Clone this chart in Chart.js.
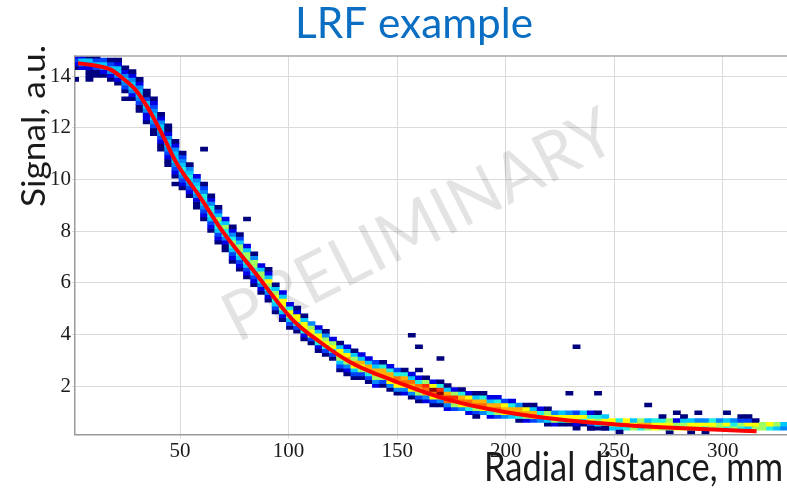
<!DOCTYPE html>
<html>
<head>
<meta charset="utf-8">
<title>LRF example</title>
<script src="https://cdn.jsdelivr.net/npm/chart.js@4.4.1/dist/chart.umd.min.js"></script>
<style>
  html, body { margin: 0; padding: 0; background: #fff; }
  #wrap { width: 787px; height: 492px; position: relative; }
</style>
</head>
<body>
<div id="wrap"><canvas id="lrfChart"></canvas></div>
<script>
// histogram bin size (mm, a.u.)
const BIN_X = 3.3;
const BIN_Y = 0.15;

// one entry per x bin (0, 3.3, 6.6 ... mm): first filled y bin
const colStartBin = [
  95, 95, 93, 93, 93, 92, 91, 89, 87, 84,
  81, 78, 74, 70, 67, 64, 62, 59, 56, 53,
  50, 48, 45, 43, 41, 39, 37, 35, 32, 30,
  28, 27, 25, 24, 22, 21, 20, 17, 16, 15,
  15, 14, 13, 13, 12, 11, 11, 10, 9, 9,
  8, 8, 7, 7, 7, 6, 6, 6, 5, 5,
  5, 5, 4, 4, 4, 4, 3, 3, 3, 3,
  3, 3, 2, 2, 2, 2, 2, 2, 2, 2,
  2, 2, 2, 1, 2, 2, 1, 2, 1, 2,
  2, 2, 2, 2, 2, 2, 2, 2, 2, 2
];
// cell levels from that bin upwards ('0' empty, '1' lowest ... 'c' highest count)
const colLevels = [
  '1232', '2452', '112451', '113531', '12453', '124531', '1245521', '1345421', '12455421', '113455421',
  '122455311', '1134554321', '1123455421', '11234554211', '1234555421', '1234565431', '123456541', '112456542', '1234566431', '1235666421',
  '1235667531', '112466752', '1235676421', '1235677531', '123567752', '123567741', '12467752', '12467852', '13568751', '12578852',
  '1357862', '1368821', '1268851', '137874', '1268852', '1368741', '136872', '13578851', '12479852', '13589751',
  '1378952', '1369952', '2479953', '1379961', '1489962', '1489a63', '248a961', '1489a52', '1379a6201', '249ab71',
  '138ac82', '149cb61', '24ab951', '37ab72', '48a961', '269a82', '37a951', '48a961', '26a952', '37a962',
  '48983', '59962', '16994', '27981', '38951', '4862', '15871', '2784', '1685', '1784',
  '2783', '1685', '13862', '15761', '1685', '578', '586', '698', '785', '697',
  '795', '886', '7861', '1787', '872', '8751', '1785', '784', '1684', '786',
  '774', '685', '764', '6731', '5831', '781', '77', '68', '57', '45'
];

// isolated single entries away from the band
const strayX = [2.9, 9.8, 23.2, 59.8, 49.4, 82, 91.8, 157, 160.8, 171, 187.3, 230, 233.5, 243, 266, 279, 289, 302, 253, 233, 239.7, 246];
const strayY = [13.86, 13.86, 13.1, 11.2, 9.87, 8.4, 6.55, 3.99, 3.55, 3.11, 0.76, 1.78, 3.55, 1.78, 1.33, 1.04, 0.9, 1.04, 0.16, 0.38, 0.38, 0.38];

// fitted LRF (red curve)
const fitX = [3, 10, 17.6, 23.7, 29.9, 36, 42.2, 48.3, 59, 69.5, 83.6, 102, 114.3, 128.2, 149.7, 174.3, 199.6, 228, 251, 274, 296, 315.6];
const fitY = [14.5, 14.42, 14.27, 13.91, 13.43, 12.65, 11.68, 10.65, 9.35, 8.0, 6.5, 4.56, 3.72, 2.94, 2.17, 1.46, 1.0, 0.68, 0.52, 0.40, 0.32, 0.26];

const xTicks = [50, 100, 150, 200, 250, 300];
const yTicks = [2, 4, 6, 8, 10, 12, 14];

// jet-like palette
const LEVEL_COLORS = {
  '1': '#00007f', '2': '#0000e6', '3': '#0040ff', '4': '#0088ff',
  '5': '#00c8ff', '6': '#20f0e0', '7': '#a0ff60', '8': '#ffff00',
  '9': '#ffb000', 'a': '#ff7000', 'b': '#ff2a00', 'c': '#8f0000'
};

// build cells
const cells = [];
colLevels.forEach((levels, i) => {
  const xc = BIN_X * (i + 0.5);
  for (let j = 0; j < levels.length; j++) {
    if (levels[j] === '0') continue;
    const b = colStartBin[i] + j;
    cells.push({ x: xc, y: [b * BIN_Y, (b + 1) * BIN_Y], lvl: levels[j] });
  }
});
strayX.forEach((x, i) => {
  const bx = Math.floor(x / BIN_X);
  const by = Math.floor(strayY[i] / BIN_Y);
  cells.push({ x: BIN_X * (bx + 0.5), y: [by * BIN_Y, (by + 1) * BIN_Y], lvl: '1' });
});

const fitPoints = fitX.map((x, i) => ({ x: x, y: fitY[i] }));

// text squeezed / stretched to a given width
function drawFitted(ctx, text, font, width) {
  ctx.font = font;
  const w = ctx.measureText(text).width;
  ctx.save();
  ctx.scale(width / w, 1);
  ctx.fillText(text, 0, 0);
  ctx.restore();
}

const lrfTexts = {
  id: 'lrfTexts',
  beforeDatasetsDraw(chart) {
    const { ctx } = chart;
    ctx.save();
    ctx.translate(419, 226);
    ctx.rotate(-27 * Math.PI / 180);
    ctx.fillStyle = 'rgba(0, 0, 0, 0.11)';
    ctx.textAlign = 'center';
    ctx.textBaseline = 'middle';
    drawFitted(ctx, 'PRELIMINARY', '68px Lato', 430);
    ctx.restore();
  },
  afterDatasetsDraw(chart) {
    const { ctx, chartArea } = chart;
    ctx.save();
    ctx.strokeStyle = '#a8a8a8';
    ctx.lineWidth = 1.5;
    ctx.beginPath();
    ctx.moveTo(chartArea.left, chartArea.top);
    ctx.lineTo(chartArea.right, chartArea.top);
    ctx.stroke();
    ctx.restore();
  },
  afterDraw(chart) {
    const { ctx } = chart;
    ctx.save();
    // title
    ctx.fillStyle = '#0a6fc2';
    ctx.textAlign = 'center';
    ctx.textBaseline = 'alphabetic';
    ctx.translate(414, 38);
    drawFitted(ctx, 'LRF example', '43px Lato', 238);
    ctx.restore();

    // y title
    ctx.save();
    ctx.fillStyle = '#1a1a1a';
    ctx.textAlign = 'center';
    ctx.textBaseline = 'alphabetic';
    ctx.translate(45, 126);
    ctx.rotate(-Math.PI / 2);
    drawFitted(ctx, 'Signal, a.u.', '32px Lato', 162);
    ctx.restore();

    // x title
    ctx.save();
    ctx.fillStyle = '#1a1a1a';
    ctx.textAlign = 'right';
    ctx.textBaseline = 'alphabetic';
    ctx.translate(783, 481);
    drawFitted(ctx, 'Radial distance, mm', '40px Lato', 299);
    ctx.restore();
  }
};

const tickFont = { family: 'Liberation Serif', size: 21 };

new Chart(document.getElementById('lrfChart'), {
  type: 'bar',
  data: {
    datasets: [
      {
        type: 'line',
        label: 'LRF fit',
        data: fitPoints,
        borderColor: '#ff0000',
        borderWidth: 4,
        pointRadius: 0,
        fill: false,
        cubicInterpolationMode: 'monotone',
        order: 1
      },
      {
        type: 'bar',
        label: 'events',
        data: cells,
        backgroundColor: (c) => (c.raw ? LEVEL_COLORS[c.raw.lvl] : '#00007f'),
        borderWidth: 0,
        barPercentage: 1,
        categoryPercentage: 1,
        order: 2
      }
    ]
  },
  options: {
    responsive: true,
    maintainAspectRatio: false,
    animation: false,
    devicePixelRatio: 1,
    layout: { padding: { top: 56, left: 0, right: 0, bottom: 0 } },
    plugins: {
      legend: { display: false },
      tooltip: { enabled: false },
      title: { display: false }
    },
    scales: {
      x: {
        type: 'linear',
        min: 1.6,
        max: 329.6,
        offset: false,
        afterBuildTicks: (s) => { s.ticks = xTicks.map(v => ({ value: v })); },
        afterFit: (s) => { s.height = 57.5; },
        ticks: { font: tickFont, color: '#1a1a1a', padding: 0, maxRotation: 0, autoSkip: false },
        grid: { color: '#dadada', lineWidth: 1, tickLength: 4, offset: false },
        border: { color: '#9a9a9a', width: 1.5 }
      },
      y: {
        type: 'linear',
        min: 0.13,
        max: 14.78,
        afterBuildTicks: (s) => { s.ticks = yTicks.map(v => ({ value: v })); },
        afterFit: (s) => { s.width = 75; },
        ticks: { font: tickFont, color: '#1a1a1a', padding: 1 },
        grid: { color: '#dadada', lineWidth: 1, tickLength: 3 },
        border: { color: '#9a9a9a', width: 1.5 }
      }
    }
  },
  plugins: [lrfTexts]
});
</script>
</body>
</html>
